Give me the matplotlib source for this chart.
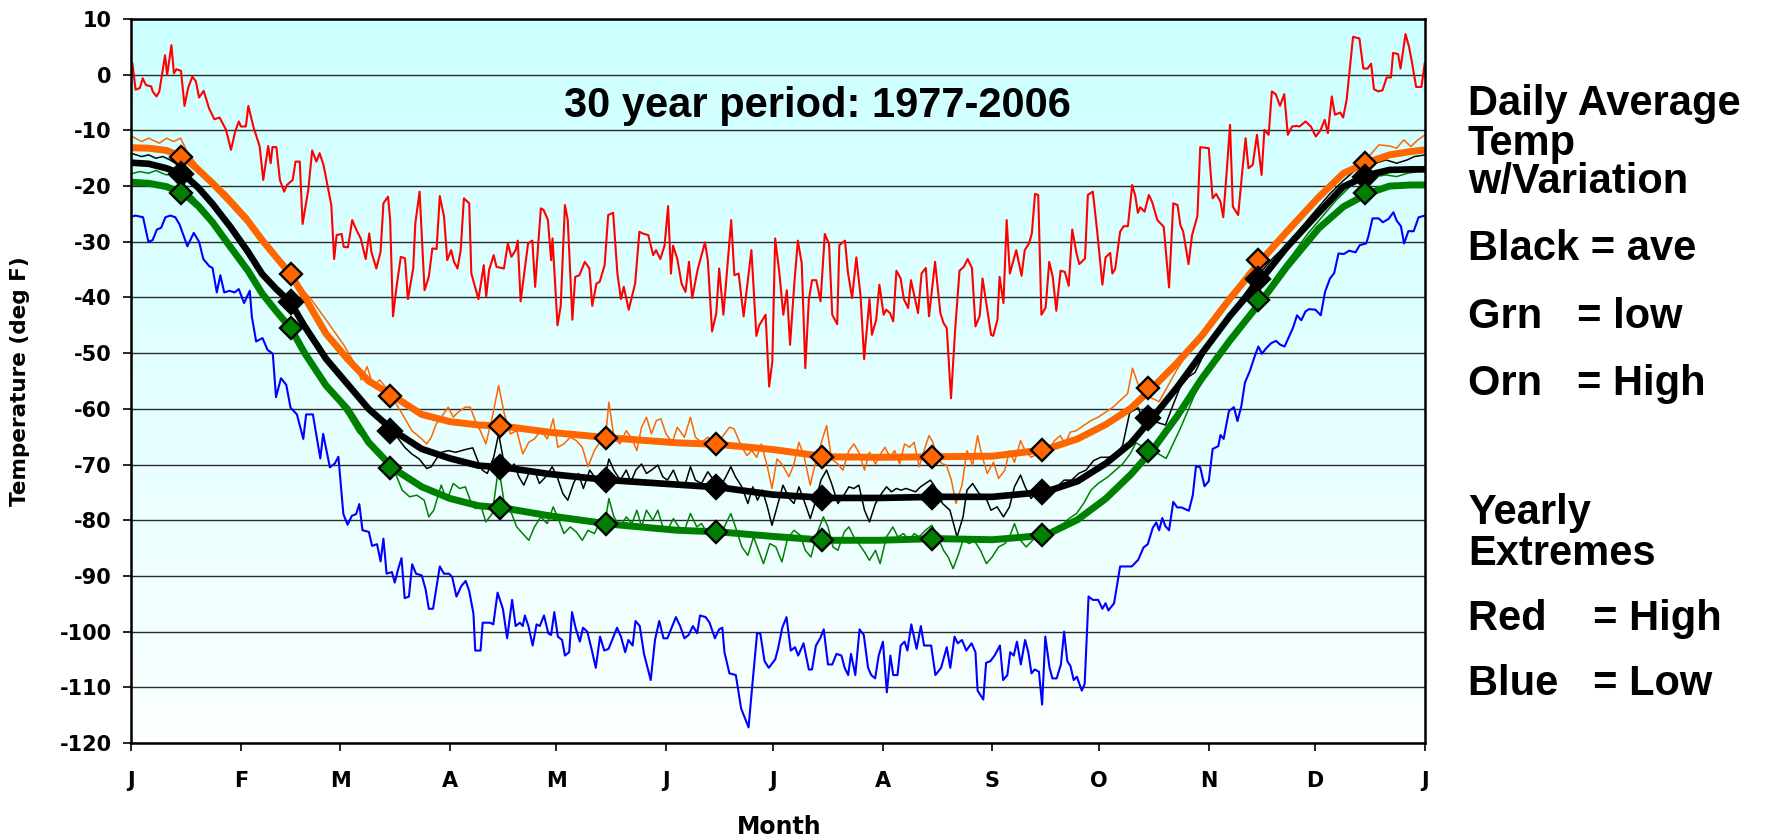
import matplotlib
matplotlib.use('Agg')
import matplotlib.pyplot as plt
import numpy as np

plt.rcParams['axes.unicode_minus'] = False

# x axis: first day of every month, labelled by initial
month_start = [0, 31, 59, 90, 120, 151, 181, 212, 243, 273, 304, 334, 365]
month_lbl = ['J', 'F', 'M', 'A', 'M', 'J', 'J', 'A', 'S', 'O', 'N', 'D', 'J']

# monthly means plotted on the 15th (diamonds)
mid_day = [14, 45, 73, 104, 134, 165, 195, 226, 257, 287, 318, 348]
high_mon = [-14.7, -35.8, -57.7, -63.1, -65.2, -66.4, -68.6, -68.6, -67.3, -56.3, -33.3, -15.9]
ave_mon = [-17.8, -40.9, -63.9, -70.5, -72.8, -74.1, -76.0, -75.8, -74.9, -61.7, -36.6, -18.3]
low_mon = [-21.3, -45.5, -70.7, -77.8, -80.7, -82.1, -83.6, -83.3, -82.7, -67.5, -40.5, -21.3]

# smoothed seasonal curves
fit_day = [0, 5, 10, 15, 19, 23, 28, 33, 37, 41, 45, 49, 55, 61, 67, 74, 82, 90, 98, 105, 118,
           135, 154, 166, 181, 196, 211, 227, 243, 258, 267, 275, 282, 288, 295, 302, 310,
           319, 326, 335, 342, 349, 355, 361, 365]
high_fit = [-13.1, -13.2, -13.6, -14.9, -17.1, -19.5, -22.8, -26.3, -29.7, -32.8, -35.8, -40.0, -46.5,
            -51.0, -55.0, -57.7, -61.0, -62.3, -62.9, -63.1, -64.2, -65.2, -66.1, -66.4, -67.3,
            -68.6, -68.7, -68.6, -68.5, -67.3, -65.4, -62.8, -59.9, -56.3, -51.8, -46.9, -40.2,
            -33.2, -28.2, -22.0, -17.7, -15.7, -14.4, -13.8, -13.5]
ave_fit = [-15.8, -16.0, -16.8, -18.0, -20.3, -23.2, -27.3, -31.8, -35.8, -38.5, -40.9, -45.2, -51.0,
           -55.5, -60.0, -63.9, -67.2, -68.9, -70.2, -70.5, -71.7, -72.8, -73.6, -74.1, -75.4,
           -76.0, -76.0, -75.8, -75.8, -74.9, -73.0, -69.8, -66.2, -61.7, -56.2, -50.1, -43.3,
           -36.6, -31.0, -24.8, -20.1, -18.0, -17.1, -17.0, -17.0]
low_fit = [-19.3, -19.5, -20.1, -21.4, -23.6, -26.5, -30.9, -35.2, -39.3, -42.5, -45.5, -50.0, -55.8,
           -60.0, -66.0, -70.7, -74.0, -76.1, -77.4, -77.8, -79.2, -80.7, -81.8, -82.1, -82.9,
           -83.6, -83.6, -83.3, -83.5, -82.7, -79.9, -76.1, -71.8, -67.5, -61.4, -54.6, -47.7,
           -40.5, -34.5, -27.6, -23.7, -21.3, -20.0, -19.8, -19.8]

# daily series as (day, deg F)
high_daily = [
    (0, -11.0), (3, -12.0), (5, -11.4), (8, -12.3), (10, -11.4), (12, -12.0), (14, -11.4),
    (16, -14.1), (19, -16.5), (22, -18.3), (27, -21.3), (30, -23.4), (33, -25.5), (37, -29.7),
    (42, -33.3), (47, -37.5), (51, -40.5), (55, -44.0), (60, -48.5), (63, -51.8), (65, -54.8),
    (66.6, -52.4), (68.4, -56.0), (70.1, -54.8), (71.7, -56.0), (73.5, -57.8), (76.5, -60.9),
    (79.2, -63.9), (82.0, -65.4), (83.4, -66.3), (84.7, -65.1), (86.1, -62.7), (87.5, -61.5),
    (89.5, -59.7), (90.9, -61.5), (92.3, -60.6), (94.3, -59.7), (95.7, -59.7), (97.1, -62.1),
    (98.5, -63.9), (100.1, -66.3), (101.9, -61.5), (103.7, -55.8), (105.3, -60.9), (107.0, -64.5),
    (108.8, -63.9), (110.5, -68.1), (112.2, -66.0), (113.8, -65.4), (115.6, -63.9), (117.4, -65.4),
    (119.1, -61.8), (120.4, -66.9), (122.1, -66.3), (123.9, -65.1), (125.6, -65.7), (127.3, -66.9),
    (128.9, -70.4), (130.7, -67.5), (132.5, -65.7), (133.9, -64.8), (134.8, -58.8), (136.2, -65.1),
    (137.9, -66.3), (139.7, -63.9), (141.3, -65.4), (142.7, -67.5), (144.0, -63.3), (145.4, -61.5),
    (146.8, -64.5), (148.2, -62.1), (149.5, -61.8), (150.9, -64.5), (152.7, -66.0), (154.1, -63.3),
    (156.1, -65.1), (157.8, -61.5), (159.2, -65.1), (160.9, -66.0), (162.7, -65.1), (164.4, -66.3),
    (165.7, -66.0), (167.4, -64.5), (168.8, -63.3), (170.1, -63.6), (171.9, -66.3), (173.7, -68.4),
    (175.1, -67.5), (176.5, -68.7), (177.8, -66.3), (179.5, -70.4), (180.8, -74.3), (182.2, -69.0),
    (183.6, -69.9), (185.6, -72.2), (187.0, -69.9), (188.4, -66.0), (189.8, -68.4), (191.6, -73.7),
    (193.2, -69.3), (194.6, -66.3), (196.2, -63.0), (197.6, -69.0), (199.4, -69.9), (200.8, -71.0),
    (202.5, -67.5), (203.9, -66.3), (205.3, -67.8), (206.9, -71.0), (208.3, -67.8), (210.0, -69.9),
    (211.7, -67.8), (212.7, -66.9), (214.1, -68.7), (215.4, -67.5), (216.8, -69.9), (218.2, -66.3),
    (219.6, -66.9), (220.9, -66.0), (222.3, -70.4), (223.7, -67.5), (225.1, -64.8), (226.2, -66.0),
    (227.5, -69.0), (228.9, -69.9), (230.0, -70.1), (231.4, -72.8), (232.7, -77.0), (234.4, -73.7),
    (235.8, -67.5), (237.4, -70.1), (238.8, -64.8), (239.9, -68.1), (241.5, -71.6), (243.3, -69.6),
    (244.7, -72.5), (246.5, -71.0), (247.8, -67.5), (249.2, -69.6), (250.9, -65.7), (252.2, -67.5),
    (253.9, -68.7), (255.7, -68.1), (257.5, -67.5), (259.1, -67.2), (260.5, -65.7), (262.1, -64.8),
    (263.5, -66.3), (264.9, -64.2), (266.7, -63.9), (268.7, -63.0), (270.8, -62.1), (272.8, -61.5),
    (274.9, -60.6), (277.0, -59.7), (279.0, -58.5), (281.1, -57.3), (282.5, -52.7), (284.0, -55.5),
    (286.0, -57.5), (290.0, -58.7), (295.0, -53.0), (299.0, -49.0), (303.0, -45.5), (307.0, -42.0),
    (311.0, -39.0), (315.0, -35.5), (319.0, -32.8), (323.0, -30.0), (327.0, -27.3), (331.0, -24.8),
    (335.0, -22.2), (339.0, -19.5), (343.0, -17.4), (346.0, -15.8), (349.0, -14.8), (352.0, -12.6),
    (355.0, -12.8), (357.0, -13.2), (359.0, -11.7), (361.0, -12.9), (363.0, -11.7), (365.0, -10.8)]

ave_daily = [
    (0, -14.1), (3, -14.7), (5, -14.4), (7, -15.0), (9, -14.7), (11, -15.3), (14, -16.5),
    (17, -18.6), (21, -21.5), (25, -25.0), (29, -28.8), (33, -32.5), (37, -35.5), (41, -38.6),
    (45, -41.5), (49, -45.5), (53, -49.0), (57, -53.0), (61, -56.0), (64, -58.2), (67, -59.5),
    (69, -61.0), (71.0, -62.1), (73.1, -63.6), (75.1, -65.1), (77.2, -66.9), (79.2, -68.1),
    (81.3, -69.0), (83.4, -70.7), (84.7, -70.4), (86.1, -69.0), (87.5, -67.8), (89.5, -67.5),
    (91.6, -67.8), (93.2, -67.5), (95.0, -67.2), (96.4, -67.0), (97.8, -69.3), (99.1, -71.0),
    (100.5, -71.6), (102.3, -68.7), (103.7, -64.5), (105.1, -69.3), (106.4, -71.0), (108.1, -69.9),
    (109.4, -72.2), (110.8, -73.7), (112.2, -71.6), (113.8, -71.0), (115.2, -73.4), (117.0, -72.2),
    (118.8, -70.4), (120.2, -72.2), (121.8, -75.2), (123.2, -76.4), (124.8, -73.4), (126.2, -71.6),
    (127.6, -74.3), (129.4, -71.0), (130.7, -72.2), (132.5, -73.4), (133.9, -71.6), (134.8, -69.0),
    (136.2, -71.0), (138.0, -72.8), (139.7, -71.0), (141.0, -73.1), (142.4, -71.0), (144.0, -69.9),
    (145.4, -71.6), (146.8, -71.0), (148.6, -70.1), (150.0, -72.2), (151.3, -72.8), (153.0, -71.0),
    (154.5, -73.4), (156.1, -74.0), (157.8, -70.4), (159.2, -72.8), (160.9, -73.4), (162.7, -71.3),
    (164.4, -72.8), (166.0, -74.3), (167.8, -72.2), (169.2, -70.4), (170.5, -72.2), (172.3, -74.0),
    (174.0, -77.0), (175.4, -74.0), (176.7, -76.4), (178.1, -74.6), (179.5, -77.6), (180.8, -80.9),
    (182.5, -77.0), (183.9, -73.7), (185.7, -76.1), (187.0, -77.0), (188.4, -74.0), (189.8, -76.4),
    (191.6, -79.7), (193.2, -76.4), (194.6, -72.8), (196.2, -71.0), (197.6, -73.4), (199.4, -77.0),
    (200.8, -75.8), (202.5, -74.0), (203.9, -74.3), (205.3, -73.7), (206.9, -78.2), (208.3, -80.3),
    (210.0, -77.0), (211.7, -75.2), (213.1, -74.0), (214.5, -74.9), (215.9, -74.3), (217.2, -74.6),
    (218.6, -74.3), (220.0, -74.6), (221.3, -74.9), (222.7, -74.0), (224.1, -73.4), (225.5, -72.8),
    (226.8, -74.0), (228.9, -77.0), (231.0, -78.2), (233.0, -83.0), (234.7, -79.4), (235.8, -74.6),
    (237.4, -73.4), (239.2, -75.2), (241.0, -75.8), (242.6, -78.2), (244.3, -77.6), (246.1, -79.4),
    (247.8, -77.6), (249.2, -74.0), (250.9, -71.9), (252.2, -74.0), (253.9, -76.1), (255.7, -74.6),
    (257.5, -73.7), (259.1, -75.2), (261.2, -74.0), (263.2, -72.8), (265.3, -72.8), (267.3, -71.6),
    (269.4, -71.0), (271.5, -69.3), (273.5, -68.7), (275.6, -68.7), (277.7, -68.4), (279.7, -66.6),
    (281.7, -60.7), (284.1, -59.8), (285.9, -62.9), (288.8, -62.3), (291.8, -62.9), (294.0, -59.2),
    (296.0, -56.0), (298.4, -54.2), (300.1, -53.5), (302.5, -50.4), (306, -46.5), (310, -42.8),
    (314, -39.5), (318, -36.0), (322, -33.0), (326, -30.5), (330, -27.5), (334, -24.5),
    (338, -21.5), (342, -19.0), (345, -17.3), (348, -16.2), (351, -15.9), (354, -15.3),
    (357, -15.9), (360, -15.3), (362, -14.7), (365, -14.4)]

low_daily = [
    (0, -17.8), (2.5, -17.4), (5, -17.7), (7, -17.2), (10, -18.0), (12, -17.7), (14, -19.5),
    (17, -21.6), (21, -24.3), (25, -27.8), (29, -31.6), (33, -35.0), (37, -38.8), (41, -42.2),
    (45, -45.8), (49, -49.8), (53, -53.6), (57, -57.5), (61, -61.0), (64, -64.2), (67, -66.0),
    (69, -67.2), (71.0, -68.4), (74.0, -70.7), (76.5, -74.6), (78.6, -75.8), (80.6, -75.5),
    (82.7, -76.4), (84.0, -79.4), (85.4, -78.2), (87.5, -73.7), (89.1, -76.4), (90.9, -73.4),
    (92.7, -74.3), (94.3, -74.0), (95.7, -76.4), (97.1, -77.9), (98.5, -77.0), (100.1, -80.3),
    (101.9, -78.8), (103.7, -70.4), (105.3, -77.0), (107.0, -78.2), (108.8, -81.2), (110.5, -82.4),
    (112.2, -83.6), (113.8, -81.2), (115.6, -79.4), (117.4, -80.6), (119.1, -77.6), (120.7, -80.0),
    (122.1, -82.4), (123.9, -81.2), (125.6, -82.1), (127.3, -83.6), (128.9, -81.8), (130.7, -82.4),
    (132.5, -80.0), (133.9, -79.7), (134.8, -76.1), (136.2, -79.4), (138.0, -81.2), (139.7, -79.4),
    (141.3, -80.6), (142.7, -78.2), (144.0, -81.2), (145.4, -78.2), (147.2, -80.0), (148.6, -78.2),
    (150.0, -81.2), (151.3, -81.8), (153.0, -79.7), (154.5, -81.2), (156.1, -81.8), (157.8, -78.8),
    (159.6, -81.2), (160.9, -80.6), (162.7, -82.4), (164.4, -81.2), (166.0, -83.0), (167.8, -80.6),
    (169.2, -78.8), (170.5, -81.2), (172.3, -84.8), (174.0, -86.3), (175.6, -83.0), (177.0, -85.4),
    (178.4, -87.8), (180.2, -84.2), (181.9, -84.8), (183.6, -87.5), (185.2, -83.3), (187.0, -81.8),
    (188.8, -82.7), (190.2, -85.4), (191.8, -86.6), (193.5, -82.4), (195.3, -79.4), (196.6, -81.2),
    (198.0, -84.8), (199.4, -85.4), (201.2, -82.1), (202.5, -81.2), (203.9, -83.0), (205.6, -84.5),
    (206.9, -85.7), (208.3, -87.2), (210.0, -85.4), (211.3, -87.8), (213.1, -83.0), (214.9, -81.2),
    (216.3, -83.0), (217.9, -82.4), (219.6, -83.6), (220.9, -82.4), (222.3, -83.0), (224.1, -81.8),
    (225.9, -80.9), (227.5, -83.0), (229.2, -85.4), (230.5, -86.6), (231.9, -88.7), (233.3, -86.3),
    (234.7, -83.6), (236.5, -84.2), (237.8, -83.6), (239.6, -85.4), (241.3, -87.8), (242.9, -86.6),
    (244.7, -84.8), (246.5, -84.2), (247.8, -83.0), (249.2, -80.6), (250.9, -83.6), (252.5, -84.8),
    (254.3, -83.6), (255.7, -83.0), (257.5, -83.3), (259.4, -82.4), (261.2, -81.2), (263.0, -80.6),
    (264.6, -79.7), (266.7, -78.8), (268.7, -77.0), (270.8, -74.6), (272.8, -73.4), (275.6, -72.2),
    (277.7, -71.0), (279.7, -69.9), (281.8, -68.1), (283.5, -66.1), (286, -67.0), (289, -67.8),
    (292, -68.9), (296, -63.5), (300, -57.5), (304, -52.5), (308, -48.8), (312, -45.5),
    (316, -42.3), (320, -39.0), (324, -35.3), (328, -32.0), (332, -28.5), (336, -25.5),
    (340, -22.5), (344, -20.0), (347, -18.8), (351, -18.3), (354, -18.0), (357, -18.3),
    (360, -17.7), (362, -17.5), (365, -17.1)]

# yearly extremes
rec_high = [
    (0.4, 2.0), (1.3, -2.7), (2.5, -2.4), (3.3, -0.65), (4.2, -1.85), (5.7, -2.1), (6.1, -3.0),
    (7.2, -3.9), (8.0, -3.0), (9.6, 3.5), (10.2, -0.05), (11.4, 5.3), (12.1, 0.25), (12.8, 0.97),
    (14.1, 0.7), (15.1, -5.6), (16.1, -2.4), (17.3, -0.35), (18.3, -1.2), (19.2, -4.1), (20.5, -2.9),
    (22.0, -6.0), (23.5, -8.0), (25.0, -7.7), (26.8, -9.9), (28.2, -13.5), (29.4, -10.2),
    (30.4, -8.4), (31.0, -9.3), (32.4, -9.3), (33.1, -5.6), (34.5, -9.3), (36.3, -12.9),
    (37.3, -18.9), (38.7, -12.8), (39.4, -15.9), (39.9, -13.0), (41.0, -13.0), (42.0, -18.9),
    (43.2, -21.0), (44.0, -19.8), (45.6, -18.9), (46.4, -15.6), (47.6, -15.6), (48.4, -26.8),
    (50.0, -20.7), (51.1, -13.6), (52.3, -15.6), (53.2, -14.1), (54.3, -16.2), (56.5, -23.4),
    (57.3, -33.1), (58.0, -28.8), (59.4, -28.6), (60.0, -30.9), (61.2, -31.0), (62.4, -26.1),
    (63.6, -27.9), (64.8, -29.4), (66.2, -33.1), (67.2, -28.5), (67.8, -31.8), (69.2, -34.8),
    (70.4, -31.8), (71.2, -23.1), (72.5, -21.9), (73.1, -26.1), (73.9, -43.4), (74.9, -38.1),
    (76.1, -32.7), (77.3, -33.0), (78.1, -40.3), (79.6, -34.8), (80.2, -26.7), (81.4, -21.0),
    (82.8, -38.7), (84.0, -36.3), (85.0, -31.2), (86.2, -31.3), (87.1, -21.8), (88.3, -25.5),
    (89.2, -33.3), (90.3, -31.5), (91.1, -33.6), (92.1, -34.8), (93.0, -31.5), (93.9, -22.2),
    (95.4, -23.1), (96.0, -35.7), (98.0, -40.3), (99.5, -34.2), (100.2, -39.8), (101.0, -35.1),
    (102.3, -32.4), (103.1, -34.5), (105.2, -34.8), (106.3, -30.3), (107.3, -32.7), (108.5, -31.5),
    (109.1, -29.8), (109.9, -40.7), (112.0, -30.3), (113.2, -29.8), (114.0, -38.1), (115.6, -24.0),
    (116.4, -24.3), (117.6, -26.1), (118.5, -33.3), (118.9, -29.4), (120.3, -45.0), (121.2, -41.6),
    (122.4, -23.4), (123.2, -26.1), (124.5, -44.0), (125.3, -36.3), (126.5, -36.0), (128.0, -33.6),
    (129.3, -34.8), (130.1, -41.5), (131.3, -37.5), (132.2, -37.2), (133.6, -34.2), (134.6, -25.2),
    (136.0, -24.8), (137.2, -35.7), (138.2, -40.3), (139.0, -38.1), (140.4, -42.2), (142.2, -37.5),
    (143.4, -28.2), (144.3, -28.5), (145.9, -28.8), (147.3, -32.4), (148.1, -31.5), (149.3, -33.1),
    (150.5, -30.7), (151.5, -23.6), (152.3, -35.7), (152.9, -30.7), (154.1, -33.1), (155.3, -37.5),
    (156.4, -39.0), (157.4, -33.6), (158.3, -40.1), (159.8, -35.1), (161.9, -30.1), (162.7, -33.3),
    (163.9, -46.1), (165.1, -42.8), (165.9, -34.8), (167.1, -43.1), (169.3, -26.1), (170.2, -36.0),
    (171.4, -35.7), (172.8, -43.4), (175.0, -31.5), (176.4, -46.9), (177.2, -45.0), (179.0, -43.1),
    (180.0, -56.0), (180.9, -51.5), (181.7, -29.4), (182.9, -35.7), (184.0, -43.1), (185.0, -38.7),
    (185.9, -48.5), (187.1, -37.5), (188.1, -29.8), (189.2, -33.9), (190.2, -52.7), (191.2, -40.4),
    (192.1, -36.9), (193.3, -36.9), (194.5, -40.7), (195.7, -28.6), (196.9, -30.4), (197.8, -43.1),
    (199.2, -44.8), (199.8, -30.6), (201.4, -29.8), (202.2, -35.4), (203.4, -40.1), (204.6, -32.8),
    (205.8, -39.8), (206.8, -51.1), (208.3, -40.3), (209.0, -46.7), (210.2, -44.0), (211.1, -37.7),
    (212.3, -43.1), (213.0, -42.2), (214.1, -42.8), (215.0, -44.3), (215.9, -35.2), (217.1, -36.6),
    (218.0, -40.3), (219.2, -41.9), (220.0, -36.9), (221.0, -39.8), (222.0, -42.8), (223.0, -35.7),
    (224.2, -34.7), (225.1, -43.4), (226.8, -33.6), (228.3, -42.8), (229.2, -44.6), (230.1, -45.5),
    (231.3, -58.1), (232.5, -45.5), (233.7, -35.2), (234.9, -34.5), (236.0, -33.1), (237.2, -34.7),
    (238.2, -45.2), (239.4, -43.3), (240.2, -36.6), (241.4, -41.6), (242.6, -46.7), (243.2, -46.9),
    (244.4, -44.0), (245.0, -36.3), (246.1, -41.0), (247.0, -26.1), (247.9, -35.7), (249.7, -31.5),
    (251.2, -36.1), (252.1, -31.5), (253.3, -30.3), (254.1, -28.5), (255.0, -21.4), (255.9, -21.6),
    (256.8, -43.1), (258.0, -41.8), (259.0, -33.6), (260.0, -36.3), (261.0, -42.4), (262.2, -35.2),
    (263.4, -35.4), (264.5, -37.9), (265.5, -27.8), (266.7, -32.1), (267.5, -34.0), (269.1, -33.0),
    (269.9, -21.6), (271.3, -21.0), (272.5, -27.9), (274.0, -37.7), (274.9, -32.8), (276.2, -32.0),
    (276.8, -35.7), (277.6, -34.9), (279.0, -28.2), (280.0, -27.2), (281.2, -27.2), (282.4, -19.8),
    (283.3, -21.8), (284.0, -24.8), (284.7, -23.8), (285.9, -24.6), (287.1, -21.6), (288.0, -22.8),
    (289.5, -26.1), (291.3, -27.3), (292.8, -38.2), (294.0, -23.1), (295.2, -23.4), (296.0, -27.0),
    (296.8, -28.2), (298.3, -34.0), (299.3, -28.8), (300.8, -25.4), (301.6, -13.0), (304.0, -13.2),
    (305.1, -22.2), (306.1, -21.4), (307.3, -22.8), (308.1, -25.6), (309.1, -17.1), (310.0, -9.0),
    (310.8, -23.7), (312.3, -25.2), (313.5, -17.1), (314.4, -11.4), (315.2, -16.8), (316.4, -16.2),
    (317.6, -10.8), (318.9, -18.0), (319.7, -9.9), (320.9, -10.8), (321.8, -3.0), (322.9, -3.5),
    (324.1, -5.6), (325.3, -3.5), (326.3, -10.8), (327.5, -9.3), (328.7, -9.2), (329.6, -9.3),
    (331.3, -8.4), (332.8, -9.3), (334.2, -11.1), (335.5, -10.0), (336.7, -8.1), (337.6, -10.5),
    (338.7, -3.9), (339.6, -7.2), (341.1, -6.8), (341.9, -7.7), (342.9, -4.5), (343.8, 1.1),
    (344.7, 6.8), (346.5, 6.5), (347.6, 1.1), (348.8, 1.1), (349.8, 2.0), (350.6, -2.6),
    (351.8, -3.0), (353.0, -2.8), (354.2, -0.5), (355.4, -0.5), (356.0, 3.9), (357.4, 3.7),
    (358.1, 1.1), (359.5, 7.3), (360.5, 5.0), (361.3, 2.3), (362.5, -2.2), (364.0, -2.2),
    (364.9, 2.0)]

rec_low = [
    (0, -25.5), (1.3, -25.3), (3.4, -25.6), (4.9, -30.0), (6.1, -29.7), (7.3, -27.8), (8.5, -27.5),
    (9.7, -25.6), (11.1, -25.3), (12.5, -25.6), (13.7, -26.9), (15.9, -30.8), (17.7, -28.4),
    (19.2, -30.0), (20.4, -33.1), (22.1, -34.4), (23.0, -34.7), (24.2, -39.1), (25.2, -36.0),
    (26.3, -39.1), (27.8, -38.8), (29.2, -39.1), (30.4, -38.5), (31.9, -41.0), (33.5, -38.8),
    (34.1, -43.5), (35.3, -47.9), (37.1, -47.3), (38.5, -49.4), (40.0, -50.1), (40.9, -57.9),
    (42.3, -54.5), (43.8, -55.7), (45.0, -59.8), (46.8, -61.0), (48.6, -65.4), (49.4, -61.0),
    (51.3, -61.0), (53.4, -68.9), (54.2, -64.5), (56.1, -70.5), (57.5, -69.8), (58.5, -68.6),
    (59.9, -78.9), (61.1, -80.8), (62.3, -79.2), (63.5, -78.9), (64.4, -77.1), (65.3, -81.8),
    (67.1, -82.1), (68.0, -84.6), (69.4, -84.3), (70.4, -87.4), (71.2, -83.3), (72.1, -89.6),
    (73.6, -89.3), (74.4, -91.2), (75.4, -88.7), (76.3, -86.8), (77.2, -94.0), (78.4, -93.7),
    (79.3, -87.9), (80.4, -89.6), (82.0, -89.9), (83.1, -92.4), (84.0, -95.9), (85.2, -95.9),
    (87.1, -88.3), (88.3, -89.6), (89.7, -89.6), (90.6, -90.2), (91.8, -93.7), (93.2, -91.8),
    (94.4, -90.9), (95.4, -92.7), (96.6, -96.8), (97.1, -103.4), (98.6, -103.4), (99.2, -98.4),
    (101.3, -98.4), (102.2, -98.7), (103.4, -93.0), (104.9, -95.9), (106.1, -101.2), (107.5, -94.3),
    (108.5, -99.0), (109.7, -98.4), (110.5, -99.0), (111.1, -97.1), (112.1, -99.0), (113.3, -102.5),
    (114.4, -98.7), (115.3, -99.0), (116.5, -97.1), (117.7, -100.3), (118.5, -100.6), (119.4, -96.5),
    (120.4, -100.9), (121.6, -101.5), (122.4, -104.3), (123.6, -103.7), (124.4, -96.5), (125.4, -99.3),
    (126.6, -101.8), (127.5, -99.3), (128.7, -100.0), (129.9, -103.1), (131.1, -106.5), (132.3, -100.9),
    (133.5, -103.4), (134.7, -103.1), (135.9, -101.2), (137.1, -99.3), (138.2, -100.9), (139.4, -103.7),
    (140.3, -101.5), (141.5, -102.5), (142.3, -98.1), (143.5, -99.0), (144.7, -104.0), (146.6, -108.7),
    (147.8, -101.5), (149.0, -98.1), (150.2, -101.2), (151.3, -101.2), (152.5, -99.3), (153.7, -97.4),
    (154.9, -99.0), (156.1, -101.2), (157.3, -100.6), (158.5, -99.0), (159.7, -100.3), (160.5, -97.1),
    (162.1, -97.4), (163.2, -98.4), (164.7, -101.2), (165.9, -99.6), (166.8, -99.3), (167.4, -103.7),
    (168.8, -107.5), (170.6, -107.8), (172.1, -113.8), (174.2, -117.2), (175.2, -110.0), (176.6, -100.3),
    (177.5, -100.3), (178.7, -105.3), (179.9, -106.5), (181.7, -105.0), (182.5, -103.1), (183.7, -99.3),
    (184.9, -97.4), (186.1, -103.4), (187.3, -102.8), (188.2, -104.3), (189.7, -102.1), (191.2, -106.8),
    (192.1, -106.8), (193.2, -102.5), (194.4, -101.2), (195.4, -99.6), (196.6, -105.9), (197.8, -105.9),
    (199.0, -104.0), (200.4, -104.3), (201.3, -106.5), (202.3, -107.8), (203.1, -104.0), (204.3, -107.8),
    (205.5, -99.6), (206.7, -100.6), (207.9, -106.5), (208.8, -107.8), (209.9, -108.4), (210.9, -104.3),
    (212.1, -101.8), (213.2, -110.9), (214.2, -104.3), (215.0, -107.8), (216.2, -107.8), (217.1, -102.5),
    (218.2, -101.8), (219.0, -103.4), (220.1, -98.7), (221.6, -103.1), (222.8, -99.0), (223.7, -102.5),
    (225.7, -102.5), (226.9, -107.8), (228.5, -106.5), (230.1, -102.8), (231.1, -106.5), (232.3, -100.9),
    (233.2, -102.1), (234.4, -101.5), (235.6, -103.4), (237.1, -102.1), (238.2, -103.7), (238.8, -110.6),
    (240.4, -112.2), (241.2, -105.6), (242.4, -105.3), (243.6, -104.3), (245.1, -102.5), (246.0, -108.7),
    (247.2, -107.8), (248.0, -103.7), (249.0, -104.3), (249.9, -101.8), (251.0, -105.9), (252.2, -101.5),
    (253.1, -103.7), (254.0, -107.5), (254.9, -106.8), (256.1, -107.2), (257.0, -113.1), (257.9, -100.9),
    (259.1, -106.5), (259.9, -108.4), (261.1, -108.4), (262.3, -105.9), (263.2, -100.0), (264.1, -105.3),
    (265.0, -106.2), (265.9, -108.7), (266.8, -108.1), (268.2, -110.6), (269.0, -109.4), (270.1, -93.7),
    (271.3, -94.3), (272.8, -94.3), (274.0, -95.9), (274.9, -94.9), (275.7, -96.2), (277.3, -94.9),
    (279.0, -88.3), (280.5, -88.3), (282.3, -88.3), (284.1, -87.1), (285.6, -84.9), (286.8, -84.3),
    (288.2, -81.4), (289.2, -80.4), (290.0, -81.8), (290.9, -79.6), (291.8, -81.1), (292.8, -81.8),
    (294.0, -76.7), (295.1, -77.7), (296.3, -77.7), (298.4, -78.3), (299.5, -75.5), (300.4, -70.3),
    (301.6, -70.5), (302.8, -73.9), (304.0, -73.0), (305.1, -67.2), (306.7, -66.7), (307.3, -64.7),
    (308.2, -65.4), (309.7, -60.4), (311.1, -59.7), (312.1, -62.2), (313.2, -59.5), (314.2, -55.3),
    (315.6, -53.2), (317.0, -50.5), (318.0, -48.8), (319.0, -50.1), (320.1, -49.2), (321.6, -48.2),
    (323.0, -47.8), (324.2, -48.5), (325.4, -48.8), (326.6, -47.1), (327.8, -45.4), (328.9, -43.2),
    (330.1, -44.1), (331.3, -42.5), (332.3, -42.1), (334.1, -42.2), (335.6, -43.2), (336.8, -39.0),
    (338.2, -36.6), (339.4, -35.6), (340.6, -32.1), (342.1, -32.2), (343.6, -31.6), (345.4, -31.9),
    (346.6, -30.6), (348.4, -30.3), (349.0, -29.1), (350.2, -25.8), (351.9, -25.8), (353.1, -26.5),
    (354.7, -25.9), (356.1, -24.7), (357.0, -26.2), (358.2, -27.2), (359.1, -30.3), (360.3, -28.1),
    (361.8, -28.1), (363.2, -25.6), (365.0, -25.3)]

# text block to the right of the plot
key_lines = [('Daily Average', 115), ('Temp', 155), ('w/Variation', 193),
             ('Black = ave', 260), ('Grn   = low', 328), ('Orn   = High', 395),
             ('Yearly', 524), ('Extremes', 565),
             ('Red    = High', 630), ('Blue   = Low', 695)]

ORANGE = '#FF6600'
GREEN = '#008000'

fig = plt.figure(figsize=(17.71, 8.40), dpi=100)
ax = fig.add_axes([131 / 1771, 1 - 743 / 840, 1294 / 1771, 724 / 840])

# cyan-to-white background
shade = np.linspace(0.80, 0.985, 256)
grad = np.dstack([shade, np.ones_like(shade), np.ones_like(shade)]).reshape(256, 1, 3)
ax.imshow(grad, extent=[0, 365, -120, 10], aspect='auto', origin='upper', zorder=0)


def xy(pairs):
    a = np.array(pairs)
    return a[:, 0], a[:, 1]


ax.plot(*xy(rec_high), color='#FF0000', lw=1.5, zorder=2)
ax.plot(*xy(rec_low), color='#0000FF', lw=1.5, zorder=2)

ax.plot(*xy(high_daily), color=ORANGE, lw=1.1, zorder=3)
ax.plot(*xy(ave_daily), color='black', lw=1.1, zorder=3)
ax.plot(*xy(low_daily), color=GREEN, lw=1.1, zorder=3)

ax.plot(fit_day, high_fit, color=ORANGE, lw=5, solid_capstyle='round', solid_joinstyle='round', zorder=4)
ax.plot(fit_day, ave_fit, color='black', lw=4.8, solid_capstyle='round', solid_joinstyle='round', zorder=4)
ax.plot(fit_day, low_fit, color=GREEN, lw=5, solid_capstyle='round', solid_joinstyle='round', zorder=4)

ax.plot(mid_day, high_mon, ls='none', marker='D', ms=11, mfc=ORANGE, mec='black', mew=1.7, zorder=5)
ax.plot(mid_day, ave_mon, ls='none', marker='D', ms=12, mfc='black', mec='black', mew=1.7, zorder=5)
ax.plot(mid_day, low_mon, ls='none', marker='D', ms=11, mfc=GREEN, mec='black', mew=1.7, zorder=5)

ax.set_xlim(0, 365)
ax.set_ylim(-120, 10)
ax.set_yticks(np.arange(-120, 11, 10))
ax.set_xticks(month_start)
ax.set_xticklabels(month_lbl)
ax.yaxis.grid(True, color='#2a2a2a', lw=1.0)
ax.set_axisbelow(True)
for gl in ax.get_ygridlines():
    gl.set_zorder(1)

for s in ax.spines.values():
    s.set_linewidth(1.8)
    s.set_zorder(6)
ax.tick_params(axis='both', direction='out', length=6, width=1.2, colors='black')
ax.tick_params(axis='y', pad=8)
ax.tick_params(axis='x', pad=14)
for lab in ax.get_xticklabels() + ax.get_yticklabels():
    lab.set_fontfamily('DejaVu Sans')
    lab.set_fontweight('bold')
    lab.set_fontsize(15)

fig.text(20 / 1771, 1 - 381 / 840, 'Temperature (deg F)', rotation=90, ha='center', va='center',
         fontfamily='DejaVu Sans', fontweight='bold', fontsize=15.5)
fig.text(779 / 1771, 1 - 827 / 840, 'Month', ha='center', va='center',
         fontfamily='DejaVu Sans', fontweight='bold', fontsize=17)

big = dict(fontfamily=['Liberation Sans', 'DejaVu Sans'], fontweight='bold', fontsize=30)
ax.text(193.7, -7.6, '30 year period: 1977-2006', ha='center', va='baseline', zorder=7, **big)

for txt, base in key_lines:
    fig.text(1468 / 1771, 1 - base / 840, txt, va='baseline',
             fontfamily=['Liberation Sans', 'DejaVu Sans'], fontweight='bold', fontsize=30)

fig.savefig('out.png', dpi=100)
